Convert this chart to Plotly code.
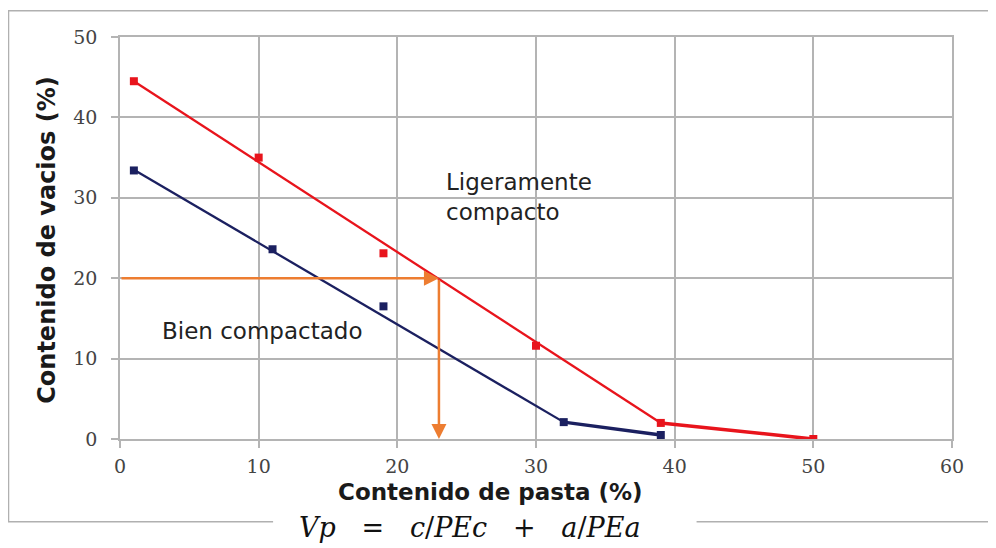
import plotly.graph_objects as go

# datos
pasta_lig = [1, 10, 19, 30, 39, 50]
vacios_lig = [44.5, 35, 23.1, 11.6, 2, 0]
pasta_bien = [1, 11, 19, 32, 39]
vacios_bien = [33.4, 23.6, 16.5, 2.1, 0.5]

# lineas de tendencia (tramos)
tend_lig_x = [1, 39]
tend_lig_y = [44.5, 2]
tend_lig2_x = [39, 50]
tend_lig2_y = [2, 0]
tend_bien_x = [1, 32]
tend_bien_y = [33.5, 2.1]
tend_bien2_x = [32, 39]
tend_bien2_y = [2.1, 0.5]

# lectura con flechas
guia_x = 23
guia_y = 20

rojo = '#e8141c'
azul = '#1b2060'
naranja = '#ed7d31'
gris = '#b4b4b4'

fig = go.Figure()
fig.add_trace(go.Scatter(x=tend_lig_x, y=tend_lig_y, mode='lines', line=dict(color=rojo, width=2.3)))
fig.add_trace(go.Scatter(x=tend_lig2_x, y=tend_lig2_y, mode='lines', line=dict(color=rojo, width=3.5)))
fig.add_trace(go.Scatter(x=tend_bien_x, y=tend_bien_y, mode='lines', line=dict(color=azul, width=2.3)))
fig.add_trace(go.Scatter(x=tend_bien2_x, y=tend_bien2_y, mode='lines', line=dict(color=azul, width=3.5)))
fig.add_trace(go.Scatter(x=pasta_lig, y=vacios_lig, mode='markers',
                         marker=dict(symbol='square', size=8, color=rojo)))
fig.add_trace(go.Scatter(x=pasta_bien, y=vacios_bien, mode='markers',
                         marker=dict(symbol='square', size=8, color=azul)))

tick_font = dict(family='DejaVu Serif', size=19, color='#444444')
fig.update_xaxes(range=[0, 60], dtick=10, showgrid=True, gridcolor=gris, gridwidth=1.5,
                 zeroline=False, ticks='outside', ticklen=7, tickcolor=gris, tickwidth=1.5,
                 showline=True, linecolor=gris, linewidth=1.5, mirror=True,
                 tickfont=tick_font, ticklabelstandoff=2)
fig.update_yaxes(range=[0, 50], dtick=10, showgrid=True, gridcolor=gris, gridwidth=1.5,
                 zeroline=False, ticks='outside', ticklen=7, tickcolor=gris, tickwidth=1.5,
                 showline=True, linecolor=gris, linewidth=1.5, mirror=True,
                 tickfont=tick_font, ticklabelstandoff=10)

texto = dict(family='DejaVu Sans', size=23, color='#222222')
fig.update_layout(
    width=996, height=548,
    margin=dict(l=112, r=52, t=29, b=117),
    paper_bgcolor='white', plot_bgcolor='white',
    showlegend=False,
    shapes=[
        dict(type='rect', xref='paper', yref='paper', x0=-0.1340, x1=1.08, y0=-0.206, y1=1.065,
             line=dict(color='#b0b0b0', width=1.5), layer='below'),
        dict(type='rect', xref='paper', yref='paper', x0=0.184, x1=0.693, y0=-0.3, y1=-0.197,
             fillcolor='white', line=dict(width=0)),
    ],
    annotations=[
        dict(text='<b>Contenido de pasta (%)</b>', xref='paper', yref='paper', x=0.445, y=-0.132,
             xanchor='center', yanchor='middle', showarrow=False,
             font=dict(family='DejaVu Sans', size=23, color='#1a1a1a')),
        dict(text='<b>Contenido de vacios (%)</b>', xref='paper', yref='paper', x=-0.088, y=0.495,
             xanchor='center', yanchor='middle', textangle=-90, showarrow=False,
             font=dict(family='DejaVu Sans', size=24, color='#1a1a1a')),
        dict(text='Ligeramente<br>compacto', x=23.4, y=30.1, xanchor='left', align='left',
             showarrow=False, font=texto),
        dict(text='Bien compactado', x=2.9, y=13.4, xanchor='left',
             showarrow=False, font=texto),
        dict(x=guia_x, y=guia_y, ax=0, ay=guia_y, xref='x', yref='y', axref='x', ayref='y',
             text='', showarrow=True, arrowhead=2, arrowsize=1.2, arrowwidth=2.5, arrowcolor=naranja),
        dict(x=guia_x, y=0, ax=guia_x, ay=guia_y, xref='x', yref='y', axref='x', ayref='y',
             text='', showarrow=True, arrowhead=2, arrowsize=1.2, arrowwidth=2.5, arrowcolor=naranja),
        dict(text='<i>Vp</i>&nbsp;&nbsp; = &nbsp;&nbsp;<i>c</i>/<i>PEc</i>&nbsp;&nbsp; + &nbsp;&nbsp;<i>a</i>/<i>PEa</i>',
             xref='paper', yref='paper', x=0.4195, y=-0.221, xanchor='center', yanchor='middle',
             showarrow=False, font=dict(family='DejaVu Serif', size=27, color='#111111')),
    ],
)

fig.write_html('out.html')
